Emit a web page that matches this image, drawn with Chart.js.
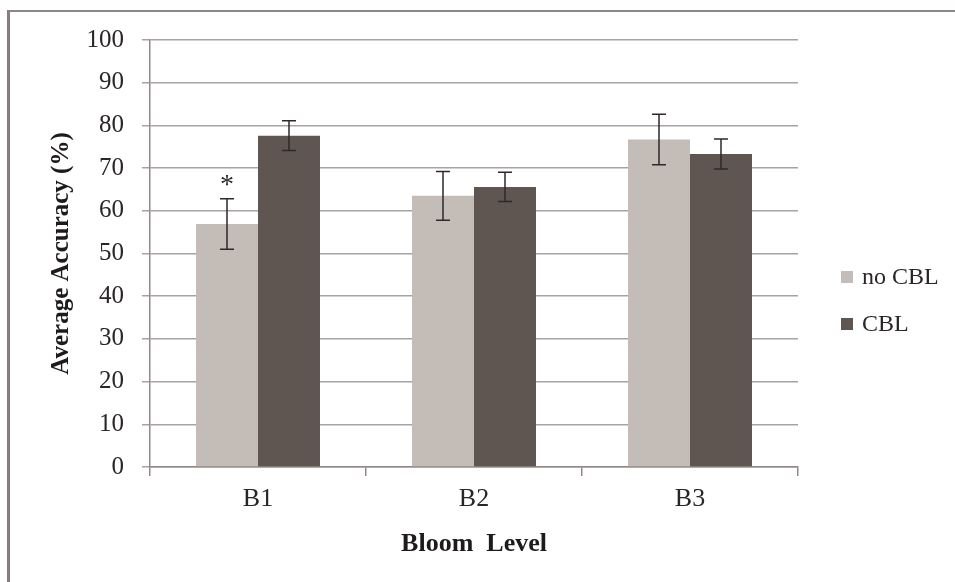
<!DOCTYPE html>
<html>
<head>
<meta charset="utf-8">
<script src="https://cdn.jsdelivr.net/npm/chart.js@4.4.1/dist/chart.umd.min.js"></script>
<style>
    html, body { margin: 0; padding: 0; background: #fff; }
    #wrap { position: relative; width: 955px; height: 582px; overflow: hidden; }
    #frame { position: absolute; left: 7px; top: 10px; width: 960px; height: 600px;
             border-left: 3px solid #857d7b; border-top: 2px solid #8d8685; }
    #accChart { position: absolute; left: 0; top: 0; }
</style>
</head>
<body>
<div id="wrap">
    <div id="frame"></div>
    <canvas id="accChart" width="955" height="582"></canvas>
</div>
<script>
// data
var levels = ['B1', 'B2', 'B3'];
var seriesNames = ['no CBL', 'CBL'];
var noCbl = [56.9, 63.5, 76.7];
var noCblErr = [5.9, 5.7, 5.9];
var cbl = [77.6, 65.6, 73.3];
var cblErr = [3.5, 3.4, 3.5];
var marks = ['*', '', '']; // significance mark above no CBL
var yTicks = [0, 10, 20, 30, 40, 50, 60, 70, 80, 90, 100];

var serif = "'Liberation Serif', 'DejaVu Serif', serif";
var errors = [noCblErr, cblErr];

// error bars + asterisk
var errorBarPlugin = {
    id: 'errorBars',
    afterDatasetsDraw: function(chart) {
        var ctx = chart.ctx;
        var y = chart.scales.y;
        ctx.save();
        ctx.strokeStyle = '#2e2a29';
        ctx.lineWidth = 1.5;
        chart.data.datasets.forEach(function(ds, i) {
            var meta = chart.getDatasetMeta(i);
            meta.data.forEach(function(bar, j) {
                var v = ds.data[j], e = errors[i][j];
                var top = y.getPixelForValue(v + e);
                var bot = y.getPixelForValue(v - e);
                ctx.beginPath();
                ctx.moveTo(bar.x, top); ctx.lineTo(bar.x, bot);
                ctx.moveTo(bar.x - 7, top); ctx.lineTo(bar.x + 7, top);
                ctx.moveTo(bar.x - 7, bot); ctx.lineTo(bar.x + 7, bot);
                ctx.stroke();
                if (i === 0 && marks[j]) {
                    ctx.fillStyle = '#2e2a29';
                    ctx.font = '28px ' + serif;
                    ctx.textAlign = 'center';
                    ctx.textBaseline = 'middle';
                    ctx.fillText(marks[j], bar.x, top - 13);
                }
            });
        });
        ctx.restore();
    }
};

// legend on the right, placed like the original
var sideLegend = {
    id: 'sideLegend',
    afterDraw: function(chart) {
        var ctx = chart.ctx;
        var rows = [277, 324];
        ctx.save();
        ctx.font = '24px ' + serif;
        ctx.textBaseline = 'middle';
        ctx.textAlign = 'left';
        chart.data.datasets.forEach(function(ds, i) {
            ctx.fillStyle = ds.backgroundColor;
            ctx.fillRect(841, rows[i] - 6, 12, 12);
            ctx.fillStyle = '#2a2625';
            ctx.fillText(ds.label, 862, rows[i] + 1);
        });
        ctx.restore();
    }
};

var ctx = document.getElementById('accChart').getContext('2d');
var chart = new Chart(ctx, {
    type: 'bar',
    data: {
        labels: levels,
        datasets: [
            {
                label: seriesNames[0],
                data: noCbl,
                backgroundColor: '#c4bcb7',
                categoryPercentage: 0.574,
                barPercentage: 1.0
            },
            {
                label: seriesNames[1],
                data: cbl,
                backgroundColor: '#5f5652',
                categoryPercentage: 0.574,
                barPercentage: 1.0
            }
        ]
    },
    options: {
        responsive: false,
        animation: false,
        layout: { padding: { left: 0, right: 157, top: 40, bottom: 0 } },
        plugins: {
            legend: { display: false },
            tooltip: { enabled: false }
        },
        scales: {
            x: {
                grid: {
                    offset: true,
                    drawOnChartArea: false,
                    color: '#8f8987',
                    lineWidth: 1.5,
                    tickLength: 9
                },
                border: { color: '#8f8987', width: 1.5 },
                ticks: {
                    color: '#2a2625',
                    padding: 8,
                    font: { family: serif, size: 26 }
                },
                title: {
                    display: true,
                    text: 'Bloom  Level',
                    color: '#1e1b1a',
                    padding: { top: 0, bottom: 22 },
                    font: { family: serif, size: 26, weight: 'bold' }
                },
                afterFit: function(scale) { scale.height = 115; }
            },
            y: {
                min: 0,
                max: 100,
                afterBuildTicks: function(scale) {
                    scale.ticks = yTicks.map(function(v) { return { value: v }; });
                },
                grid: {
                    color: '#a8a2a0',
                    lineWidth: 1.5,
                    tickLength: 8
                },
                border: { color: '#8f8987', width: 1.5 },
                ticks: {
                    color: '#2a2625',
                    padding: 18,
                    font: { family: serif, size: 25 }
                },
                title: {
                    display: true,
                    text: 'Average Accuracy (%)',
                    color: '#1e1b1a',
                    padding: { top: 47, bottom: 0 },
                    font: { family: serif, size: 25, weight: 'bold' }
                },
                afterFit: function(scale) { scale.width = 150; }
            }
        }
    },
    plugins: [errorBarPlugin, sideLegend]
});
</script>
</body>
</html>
